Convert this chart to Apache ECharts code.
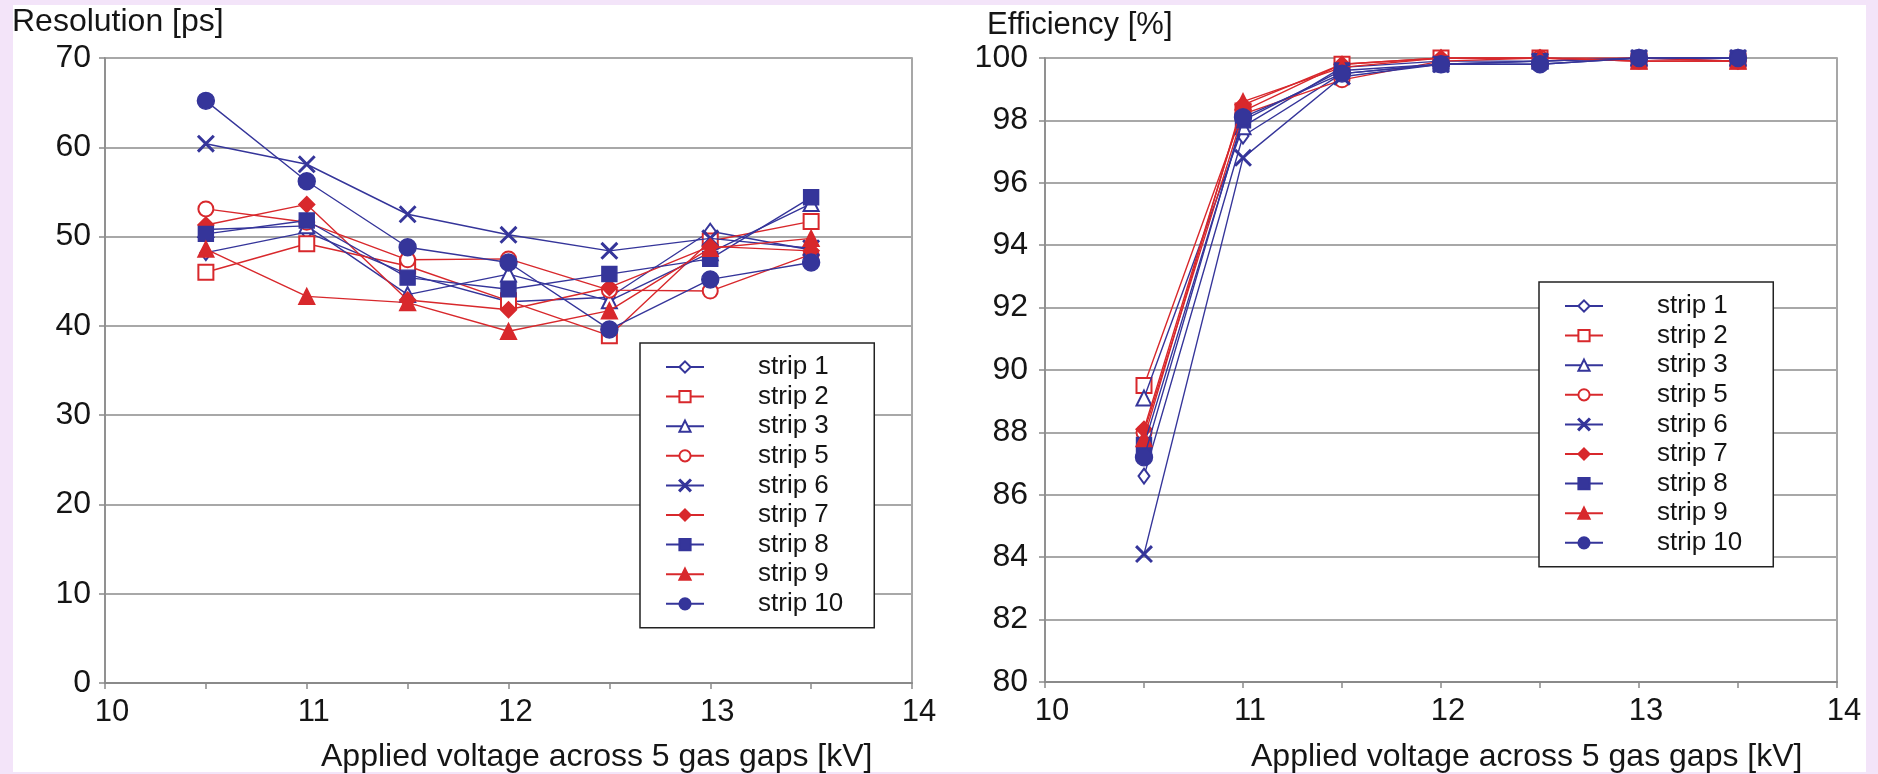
<!DOCTYPE html>
<html>
<head>
<meta charset="utf-8">
<script src="https://cdn.jsdelivr.net/npm/echarts@6/dist/echarts.min.js"></script>
<style>
  html, body { margin: 0; padding: 0; background: #F3E4F9; }
  #frame { position: absolute; left: 13px; top: 5px; width: 1853px; height: 767px; background: #fff; }
  #chart { position: absolute; left: 0; top: 0; width: 1878px; height: 774px; }
</style>
</head>
<body>
<div id="frame"></div>
<div id="chart"></div>
<script>
// x values (applied voltage, kV)
const voltages = [10.5, 11, 11.5, 12, 12.5, 13, 13.5];
const stripNames = ['strip 1', 'strip 2', 'strip 3', 'strip 5', 'strip 6', 'strip 7', 'strip 8', 'strip 9', 'strip 10'];

// time resolution [ps]
const resStrip1  = [48.2, 50.5, 45.8, 42.7, 43.2, 50.6, 48.5];
const resStrip2  = [46.0, 49.2, 46.7, 42.8, 38.9, 49.5, 51.7];
const resStrip3  = [50.8, 51.2, 43.5, 45.8, 42.8, 48.2, 53.7];
const resStrip5  = [53.1, 51.6, 47.4, 47.5, 44.0, 43.9, 48.0];
const resStrip6  = [60.4, 58.1, 52.5, 50.2, 48.4, 49.8, 48.7];
const resStrip7  = [51.3, 53.6, 42.9, 41.8, 44.3, 48.9, 48.4];
const resStrip8  = [50.3, 51.8, 45.4, 44.1, 45.8, 47.5, 54.4];
const resStrip9  = [48.6, 43.3, 42.6, 39.4, 41.7, 48.7, 49.8];
const resStrip10 = [65.2, 56.2, 48.8, 47.1, 39.6, 45.2, 47.1];

// efficiency [%]
const effStrip1  = [86.6, 97.5, 99.5, 99.8, 99.8, 100.0, 99.9];
const effStrip2  = [89.5, 98.3, 99.8, 100.0, 100.0, 99.9, 99.9];
const effStrip3  = [89.1, 97.8, 99.7, 99.9, 99.9, 100.0, 100.0];
const effStrip5  = [88.0, 98.2, 99.3, 99.9, 100.0, 99.9, 99.9];
const effStrip6  = [84.1, 96.8, 99.4, 99.8, 99.9, 100.0, 100.0];
const effStrip7  = [88.1, 98.5, 99.8, 100.0, 100.0, 100.0, 99.9];
const effStrip8  = [87.6, 98.0, 99.6, 99.8, 99.9, 100.0, 100.0];
const effStrip9  = [87.8, 98.6, 99.7, 100.0, 100.0, 99.9, 99.9];
const effStrip10 = [87.2, 98.1, 99.5, 99.8, 99.8, 100.0, 100.0];

const resValues = [resStrip1, resStrip2, resStrip3, resStrip5, resStrip6, resStrip7, resStrip8, resStrip9, resStrip10];
const effValues = [effStrip1, effStrip2, effStrip3, effStrip5, effStrip6, effStrip7, effStrip8, effStrip9, effStrip10];

// marker look per strip
const BLUE = '#35359A', RED = '#D8282C';
const CROSS = 'path://M0,0.7L0.7,0L10,9.3L9.3,10ZM9.3,0L10,0.7L0.7,10L0,9.3Z';
const looks = [
  { color: BLUE, symbol: 'emptyDiamond',  size: [11, 15] },
  { color: RED,  symbol: 'emptyRect',     size: 15 },
  { color: BLUE, symbol: 'emptyTriangle', size: 15 },
  { color: RED,  symbol: 'emptyCircle',   size: 15 },
  { color: BLUE, symbol: CROSS,           size: 16 },
  { color: RED,  symbol: 'diamond',       size: 16 },
  { color: BLUE, symbol: 'rect',          size: 15 },
  { color: RED,  symbol: 'triangle',      size: 16 },
  { color: BLUE, symbol: 'circle',        size: 17 },
];

const FONT = "'Liberation Sans', Arial, sans-serif";
const INK = '#151515';
const GRID_GREY = '#a8a8a8';
const FRAME_GREY = '#8a8a8a';

function makeSeries(values, axisIdx) {
  return values.map((ys, i) => ({
    name: stripNames[i],
    type: 'line',
    xAxisIndex: axisIdx, yAxisIndex: axisIdx,
    data: voltages.map((v, k) => [v, ys[k]]),
    symbol: looks[i].symbol,
    symbolSize: looks[i].size,
    showSymbol: true,
    lineStyle: { color: looks[i].color, width: 1.4 },
    itemStyle: { color: looks[i].color, borderColor: looks[i].color, borderWidth: 1.4 },
    emphasis: { disabled: true },
    z: 2 + i,
  }));
}

function xAxis(gridIdx) {
  return {
    type: 'value', gridIndex: gridIdx, min: 10, max: 14, interval: 0.5,
    axisLine: { show: true, lineStyle: { color: FRAME_GREY, width: 2 } },
    axisTick: { show: true, length: 6, lineStyle: { color: FRAME_GREY, width: 1.5 } },
    axisLabel: {
      color: INK, fontFamily: FONT, fontSize: 31, margin: 14,
      padding: [0, 0, 0, 14],
      formatter: v => (Number.isInteger(v) ? String(v) : ''),
    },
    splitLine: { show: false },
  };
}

function yAxis(gridIdx, min, max, step, margin) {
  return {
    type: 'value', gridIndex: gridIdx, min: min, max: max, interval: step,
    axisLine: { show: true, lineStyle: { color: FRAME_GREY, width: 1.5 } },
    axisTick: { show: true, length: 6, lineStyle: { color: FRAME_GREY, width: 1.5 } },
    axisLabel: { color: INK, fontFamily: FONT, fontSize: 32, margin: margin },
    splitLine: { show: true, lineStyle: { color: GRID_GREY, width: 2 } },
  };
}

function legend(left, top) {
  return {
    orient: 'vertical', left: left, top: top,
    padding: [11, 31, 11, 25],
    backgroundColor: '#fff', borderColor: '#222', borderWidth: 1.5,
    itemWidth: 38, itemHeight: 14, itemGap: 3.6,
    selectedMode: false,
    textStyle: { color: INK, fontFamily: FONT, fontSize: 26, lineHeight: 26, padding: [0, 0, 0, 49] },
    data: stripNames,
    z: 10,
  };
}

function label(text, left, top, size) {
  return {
    text: text, left: left, top: top, padding: 0,
    textStyle: { color: INK, fontFamily: FONT, fontSize: size, fontWeight: 'normal' },
  };
}

const chart = echarts.init(document.getElementById('chart'), null, { renderer: 'canvas' });
chart.setOption({
  animation: false,
  backgroundColor: 'transparent',
  title: [
    label('Resolution [ps]', 12, 6, 32),
    label('Efficiency [%]', 987, 10, 31),
    label('Applied voltage across 5 gas gaps [kV]', 321, 741, 32),
    label('Applied voltage across 5 gas gaps [kV]', 1251, 741, 32),
  ],
  grid: [
    { left: 105, top: 58, width: 807, height: 625, show: true, backgroundColor: '#fff', borderColor: FRAME_GREY, borderWidth: 1.5 },
    { left: 1045, top: 58, width: 792, height: 624, show: true, backgroundColor: '#fff', borderColor: FRAME_GREY, borderWidth: 1.5 },
  ],
  xAxis: [xAxis(0), xAxis(1)],
  yAxis: [yAxis(0, 0, 70, 10, 14), yAxis(1, 80, 100, 2, 17)],
  legend: [legend(640, 343), legend(1539, 282)],
  series: makeSeries(resValues, 0).concat(makeSeries(effValues, 1)),
});
</script>
</body>
</html>
